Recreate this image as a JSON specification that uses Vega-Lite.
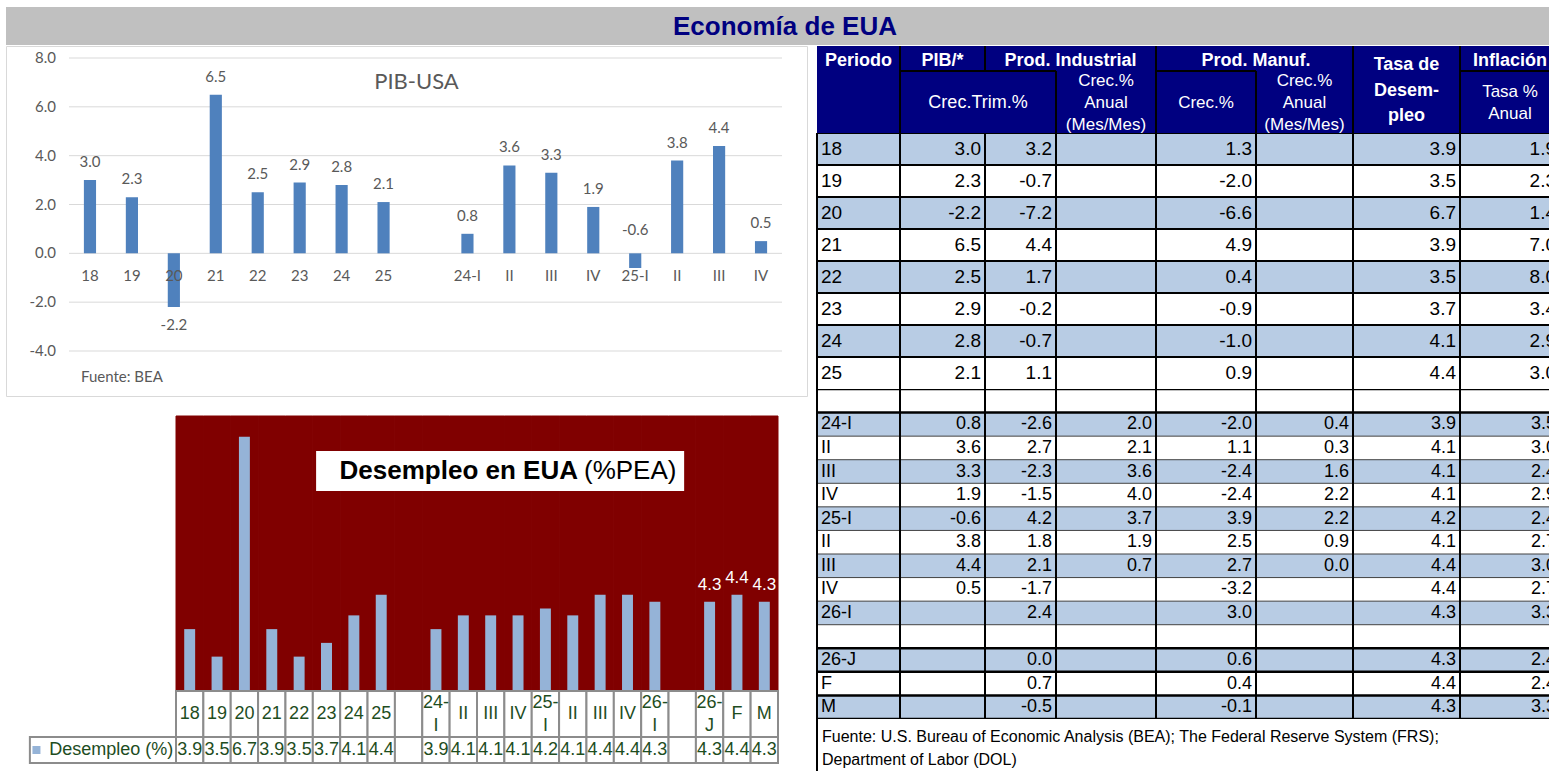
{
"$schema": "https://vega.github.io/schema/vega-lite/v6.json",
"background": "white",
"padding": {"left": 5, "top": 7, "right": 0, "bottom": 0},
"config": {"view": {"stroke": null}, "axis": {"disable": true}, "font": "Liberation Sans", "text": {"font": "Liberation Sans"},
  "locale": {"number": {"decimal": ".", "thousands": ",", "grouping": [3], "currency": ["$", ""], "minus": "-"}}},
"datasets": {
 "pib": [
  {"k":"18","l":"18","v":3.0},{"k":"19","l":"19","v":2.3},{"k":"20","l":"20","v":-2.2},{"k":"21","l":"21","v":6.5},
  {"k":"22","l":"22","v":2.5},{"k":"23","l":"23","v":2.9},{"k":"24","l":"24","v":2.8},{"k":"25","l":"25","v":2.1},
  {"k":"b1","l":"","v":null},
  {"k":"24-I","l":"24-I","v":0.8},{"k":"24-II","l":"II","v":3.6},{"k":"24-III","l":"III","v":3.3},{"k":"24-IV","l":"IV","v":1.9},
  {"k":"25-I","l":"25-I","v":-0.6},{"k":"25-II","l":"II","v":3.8},{"k":"25-III","l":"III","v":4.4},{"k":"25-IV","l":"IV","v":0.5}
 ],
 "grid": [{"g":-4},{"g":-2},{"g":0},{"g":2},{"g":4},{"g":6},{"g":8}],
 "des": [
  {"k":"18","lab":"18","v":3.9},{"k":"19","lab":"19","v":3.5},{"k":"20","lab":"20","v":6.7},{"k":"21","lab":"21","v":3.9},
  {"k":"22","lab":"22","v":3.5},{"k":"23","lab":"23","v":3.7},{"k":"24","lab":"24","v":4.1},{"k":"25","lab":"25","v":4.4},
  {"k":"b1","lab":"","v":null},
  {"k":"24-I","lab":"24-\nI","v":3.9},{"k":"24-II","lab":"II","v":4.1},{"k":"24-III","lab":"III","v":4.1},{"k":"24-IV","lab":"IV","v":4.1},
  {"k":"25-I","lab":"25-\nI","v":4.2},{"k":"25-II","lab":"II","v":4.1},{"k":"25-III","lab":"III","v":4.4},{"k":"25-IV","lab":"IV","v":4.4},
  {"k":"26-I","lab":"26-\nI","v":4.3},
  {"k":"b2","lab":"","v":null},
  {"k":"26-J","lab":"26-\nJ","v":4.3},{"k":"26-F","lab":"F","v":4.4},{"k":"26-M","lab":"M","v":4.3}
 ],
 "tabA": [
  {"k":"18","p":"18","pib":3.0,"pi":3.2,"pia":null,"pm":1.3,"pma":null,"des":3.9,"inf":1.9},
  {"k":"19","p":"19","pib":2.3,"pi":-0.7,"pia":null,"pm":-2.0,"pma":null,"des":3.5,"inf":2.3},
  {"k":"20","p":"20","pib":-2.2,"pi":-7.2,"pia":null,"pm":-6.6,"pma":null,"des":6.7,"inf":1.4},
  {"k":"21","p":"21","pib":6.5,"pi":4.4,"pia":null,"pm":4.9,"pma":null,"des":3.9,"inf":7.0},
  {"k":"22","p":"22","pib":2.5,"pi":1.7,"pia":null,"pm":0.4,"pma":null,"des":3.5,"inf":8.0},
  {"k":"23","p":"23","pib":2.9,"pi":-0.2,"pia":null,"pm":-0.9,"pma":null,"des":3.7,"inf":3.4},
  {"k":"24","p":"24","pib":2.8,"pi":-0.7,"pia":null,"pm":-1.0,"pma":null,"des":4.1,"inf":2.9},
  {"k":"25","p":"25","pib":2.1,"pi":1.1,"pia":null,"pm":0.9,"pma":null,"des":4.4,"inf":3.0}
 ],
 "tabQ": [
  {"k":"b1","p":"","pib":null,"pi":null,"pia":null,"pm":null,"pma":null,"des":null,"inf":null},
  {"k":"24-I","p":"24-I","pib":0.8,"pi":-2.6,"pia":2.0,"pm":-2.0,"pma":0.4,"des":3.9,"inf":3.5},
  {"k":"24-II","p":"II","pib":3.6,"pi":2.7,"pia":2.1,"pm":1.1,"pma":0.3,"des":4.1,"inf":3.0},
  {"k":"24-III","p":"III","pib":3.3,"pi":-2.3,"pia":3.6,"pm":-2.4,"pma":1.6,"des":4.1,"inf":2.4},
  {"k":"24-IV","p":"IV","pib":1.9,"pi":-1.5,"pia":4.0,"pm":-2.4,"pma":2.2,"des":4.1,"inf":2.9},
  {"k":"25-I","p":"25-I","pib":-0.6,"pi":4.2,"pia":3.7,"pm":3.9,"pma":2.2,"des":4.2,"inf":2.4},
  {"k":"25-II","p":"II","pib":3.8,"pi":1.8,"pia":1.9,"pm":2.5,"pma":0.9,"des":4.1,"inf":2.7},
  {"k":"25-III","p":"III","pib":4.4,"pi":2.1,"pia":0.7,"pm":2.7,"pma":0.0,"des":4.4,"inf":3.0},
  {"k":"25-IV","p":"IV","pib":0.5,"pi":-1.7,"pia":null,"pm":-3.2,"pma":null,"des":4.4,"inf":2.7},
  {"k":"26-I","p":"26-I","pib":null,"pi":2.4,"pia":null,"pm":3.0,"pma":null,"des":4.3,"inf":3.3},
  {"k":"b2","p":"","pib":null,"pi":null,"pia":null,"pm":null,"pma":null,"des":null,"inf":null},
  {"k":"26-J","p":"26-J","pib":null,"pi":0.0,"pia":null,"pm":0.6,"pma":null,"des":4.3,"inf":2.4},
  {"k":"26-F","p":"F","pib":null,"pi":0.7,"pia":null,"pm":0.4,"pma":null,"des":4.4,"inf":2.4},
  {"k":"26-M","p":"M","pib":null,"pi":-0.5,"pia":null,"pm":-0.1,"pma":null,"des":4.3,"inf":3.3}
 ]
},
"spacing": 0,
"bounds": "full",
"vconcat": [
 {
  "width": 1544, "height": 38,
  "view": {"fill": "#c0c0c0", "stroke": null},
  "data": {"values": [{"t": "Economía de EUA"}]},
  "mark": {"type": "text", "fontSize": 26, "fontWeight": "bold", "color": "#000080", "dx": 7, "dy": 1, "baseline": "middle", "align": "center"},
  "encoding": {"text": {"field": "t"}}
 },
 {
  "hconcat": [
   {
    "vconcat": [
     {
      "width": 801, "height": 350,
      "view": {"fill": "white", "stroke": "#d9d9d9"},
      "data": {"name": "pib"},
      "layer": [
       {"data": {"name": "grid"},
        "mark": {"type": "rule", "color": "#d9d9d9", "strokeWidth": 1},
        "encoding": {
         "x": {"datum": "18", "bandPosition": 0, "type": "nominal", "scale": {"domain": ["18","19","20","21","22","23","24","25","b1","24-I","24-II","24-III","24-IV","25-I","25-II","25-III","25-IV"], "range": [63, 776], "paddingInner": 0, "paddingOuter": 0}},
         "x2": {"datum": "25-IV", "bandPosition": 1},
         "y": {"field": "g", "type": "quantitative", "scale": {"domain": [-4, 8], "range": [305, 12], "zero": false, "nice": false}}}},
       {"data": {"name": "grid"},
        "mark": {"type": "text", "align": "right", "baseline": "middle", "dx": -13, "font": "Lato", "fontSize": 15, "color": "#595959"},
        "encoding": {"x": {"datum": "18", "bandPosition": 0, "type": "nominal"}, "y": {"field": "g", "type": "quantitative"}, "text": {"field": "g", "type": "quantitative", "format": ".1f"}}},
       {"transform": [{"filter": "isValid(datum.v)"}],
        "mark": {"type": "bar", "color": "#4f81bd", "width": {"band": 0.29}},
        "encoding": {"x": {"field": "k", "type": "nominal"}, "y": {"field": "v", "type": "quantitative"}, "y2": {"datum": 0}}},
       {"transform": [{"filter": "isValid(datum.v) && datum.v >= 0"}],
        "mark": {"type": "text", "baseline": "middle", "dy": -18, "font": "Lato", "fontSize": 15, "color": "#595959"},
        "encoding": {"x": {"field": "k", "type": "nominal"}, "y": {"field": "v", "type": "quantitative"}, "text": {"field": "v", "type": "quantitative", "format": ".1f"}}},
       {"transform": [{"filter": "isValid(datum.v) && datum.v < -1"}],
        "mark": {"type": "text", "baseline": "middle", "dy": 18, "font": "Lato", "fontSize": 15, "color": "#595959"},
        "encoding": {"x": {"field": "k", "type": "nominal"}, "y": {"field": "v", "type": "quantitative"}, "text": {"field": "v", "type": "quantitative", "format": ".1f"}}},
       {"transform": [{"filter": "isValid(datum.v) && datum.v < 0 && datum.v > -1"}],
        "mark": {"type": "text", "baseline": "middle", "dy": -23, "font": "Lato", "fontSize": 15, "color": "#595959"},
        "encoding": {"x": {"field": "k", "type": "nominal"}, "y": {"datum": 0, "type": "quantitative"}, "text": {"field": "v", "type": "quantitative", "format": ".1f"}}},
       {"mark": {"type": "text", "baseline": "middle", "dy": 23, "font": "Lato", "fontSize": 15, "color": "#595959"},
        "encoding": {"x": {"field": "k", "type": "nominal"}, "y": {"datum": 0, "type": "quantitative"}, "text": {"field": "l"}}},
       {"data": {"values": [{"t": "PIB-USA"}]},
        "mark": {"type": "text", "baseline": "middle", "dx": 10, "font": "Lato", "fontSize": 22, "color": "#595959"},
        "encoding": {"y": {"datum": 7, "type": "quantitative"}, "text": {"field": "t"}}},
       {"data": {"values": [{"t": "Fuente: BEA"}]},
        "mark": {"type": "text", "align": "left", "baseline": "middle", "dx": 12, "dy": 26, "font": "Lato", "fontSize": 15, "color": "#595959"},
        "encoding": {"x": {"datum": "18", "bandPosition": 0, "type": "nominal"}, "y": {"datum": -4, "type": "quantitative"}, "text": {"field": "t"}}}
      ]
     },
     {
      "width": 801, "height": 295,
      "data": {"name": "des"},
      "layer": [
       {"mark": {"type": "rect", "fill": "#800000", "stroke": "#800000", "strokeWidth": 1},
        "encoding": {
         "x": {"field": "k", "type": "nominal", "scale": {"domain": ["18","19","20","21","22","23","24","25","b1","24-I","24-II","24-III","24-IV","25-I","25-II","25-III","25-IV","26-I","b2","26-J","26-F","26-M"], "range": [170, 772], "paddingInner": 0, "paddingOuter": 0}},
         "y": {"datum": 7, "type": "quantitative", "scale": {"domain": [3, 7], "range": [295, 20], "zero": false, "nice": false}},
         "y2": {"datum": 3}}},
       {"transform": [{"filter": "isValid(datum.v)"}],
        "mark": {"type": "bar", "color": "#95b3d7", "width": {"band": 0.4}},
        "encoding": {"x": {"field": "k", "type": "nominal"}, "y": {"field": "v", "type": "quantitative"}, "y2": {"datum": 3}}},
       {"transform": [{"filter": "indexof(['26-J','26-F','26-M'], datum.k) >= 0"}],
        "mark": {"type": "text", "baseline": "middle", "dy": -17, "fontSize": 17, "color": "white"},
        "encoding": {"x": {"field": "k", "type": "nominal"}, "y": {"field": "v", "type": "quantitative"}, "text": {"field": "v", "type": "quantitative", "format": ".1f"}}},
       {"data": {"values": [{"t": ""}]},
        "mark": {"type": "rect", "fill": "white"},
        "encoding": {"x": {"datum": "23", "bandPosition": 0.12, "type": "nominal"}, "x2": {"datum": "b2", "bandPosition": 0.57}, "y": {"datum": 6.49, "type": "quantitative"}, "y2": {"datum": 5.91}}},
       {"data": {"values": [{"t": "Desempleo en EUA"}]},
        "mark": {"type": "text", "align": "right", "baseline": "middle", "fontSize": 26, "fontWeight": "bold", "color": "black"},
        "encoding": {"x": {"datum": "25-II", "bandPosition": 0.69, "type": "nominal"}, "y": {"datum": 6.2, "type": "quantitative"}, "text": {"field": "t"}}},
       {"data": {"values": [{"t": "(%PEA)"}]},
        "mark": {"type": "text", "align": "left", "baseline": "middle", "fontSize": 26, "color": "black"},
        "encoding": {"x": {"datum": "25-II", "bandPosition": 0.91, "type": "nominal"}, "y": {"datum": 6.2, "type": "quantitative"}, "text": {"field": "t"}}}
      ]
     },
     {
      "width": 801, "height": 46,
      "data": {"name": "des"},
      "layer": [
       {"mark": {"type": "rect", "fill": "white", "stroke": "#8c8c8c", "strokeWidth": 2},
        "encoding": {"x": {"field": "k", "type": "nominal", "scale": {"domain": ["18","19","20","21","22","23","24","25","b1","24-I","24-II","24-III","24-IV","25-I","25-II","25-III","25-IV","26-I","b2","26-J","26-F","26-M"], "range": [170, 772], "paddingInner": 0, "paddingOuter": 0}}}},
       {"transform": [{"filter": "indexof(datum.lab, '\\n') < 0"}],
        "mark": {"type": "text", "fontSize": 18, "color": "#1e4d1e", "baseline": "middle"},
        "encoding": {"x": {"field": "k", "type": "nominal"}, "text": {"field": "lab"}}},
       {"transform": [{"filter": "indexof(datum.lab, '\\n') >= 0"}],
        "mark": {"type": "text", "lineBreak": "\n", "lineHeight": 23, "fontSize": 18, "color": "#1e4d1e", "baseline": "middle", "dy": -11},
        "encoding": {"x": {"field": "k", "type": "nominal"}, "text": {"field": "lab"}}}
      ]
     },
     {
      "width": 801, "height": 26,
      "data": {"name": "des"},
      "layer": [
       {"data": {"values": [{"t": ""}]},
        "mark": {"type": "rect", "fill": "white", "stroke": "#8c8c8c", "strokeWidth": 2},
        "encoding": {"x": {"datum": "18", "bandPosition": -5.34, "type": "nominal", "scale": {"domain": ["18","19","20","21","22","23","24","25","b1","24-I","24-II","24-III","24-IV","25-I","25-II","25-III","25-IV","26-I","b2","26-J","26-F","26-M"], "range": [170, 772], "paddingInner": 0, "paddingOuter": 0}}, "x2": {"datum": "18", "bandPosition": 0}}},
       {"mark": {"type": "rect", "fill": "white", "stroke": "#8c8c8c", "strokeWidth": 2},
        "encoding": {"x": {"field": "k", "type": "nominal"}}},
       {"transform": [{"filter": "isValid(datum.v)"}],
        "mark": {"type": "text", "fontSize": 18, "color": "#1e4d1e", "baseline": "middle"},
        "encoding": {"x": {"field": "k", "type": "nominal"}, "text": {"field": "v", "type": "quantitative", "format": ".1f"}}},
       {"data": {"values": [{"t": ""}]},
        "mark": {"type": "square", "size": 64, "filled": true, "color": "#95b3d7", "opacity": 1},
        "encoding": {"x": {"datum": "18", "bandPosition": -5.1, "type": "nominal"}}},
       {"data": {"values": [{"t": "Desempleo (%)"}]},
        "mark": {"type": "text", "align": "right", "baseline": "middle", "fontSize": 18, "color": "#1e4d1e"},
        "encoding": {"x": {"datum": "18", "bandPosition": -0.1, "type": "nominal"}, "text": {"field": "t"}}}
      ]
     }
    ],
    "spacing": 0,
    "bounds": "flush"
   },
   {
    "vconcat": [
     {
      "width": 732, "height": 87,
      "data": {"values": [{"t": ""}]},
      "layer": [
       {"mark": {"type": "rect", "fill": "#000080", "clip": true},
        "encoding": {"x": {"datum": 0, "type": "quantitative", "scale": {"type": "linear", "domain": [0,1,2,3,4,5,6,7,8], "range": [0,83,168,239,339,439,536,643,743], "zero": false, "nice": false}}, "x2": {"datum": 8},
         "y": {"datum": 0, "type": "quantitative", "scale": {"type": "linear", "domain": [0,1,2], "range": [0,25,87], "zero": false, "nice": false}}, "y2": {"datum": 2}}},
       {"mark": {"type": "rule", "color": "black", "strokeWidth": 2}, "encoding": {"x": {"datum": 1, "type": "quantitative"}, "y": {"datum": 0, "type": "quantitative"}, "y2": {"datum": 2}}},
       {"mark": {"type": "rule", "color": "black", "strokeWidth": 2}, "encoding": {"x": {"datum": 2, "type": "quantitative"}, "y": {"datum": 0, "type": "quantitative"}, "y2": {"datum": 1}}},
       {"mark": {"type": "rule", "color": "black", "strokeWidth": 2}, "encoding": {"x": {"datum": 3, "type": "quantitative"}, "y": {"datum": 1, "type": "quantitative"}, "y2": {"datum": 2}}},
       {"mark": {"type": "rule", "color": "black", "strokeWidth": 2}, "encoding": {"x": {"datum": 4, "type": "quantitative"}, "y": {"datum": 0, "type": "quantitative"}, "y2": {"datum": 2}}},
       {"mark": {"type": "rule", "color": "black", "strokeWidth": 2}, "encoding": {"x": {"datum": 5, "type": "quantitative"}, "y": {"datum": 1, "type": "quantitative"}, "y2": {"datum": 2}}},
       {"mark": {"type": "rule", "color": "black", "strokeWidth": 2}, "encoding": {"x": {"datum": 6, "type": "quantitative"}, "y": {"datum": 0, "type": "quantitative"}, "y2": {"datum": 2}}},
       {"mark": {"type": "rule", "color": "black", "strokeWidth": 2}, "encoding": {"x": {"datum": 7, "type": "quantitative"}, "y": {"datum": 0, "type": "quantitative"}, "y2": {"datum": 2}}},
       {"mark": {"type": "rule", "color": "black", "strokeWidth": 2}, "encoding": {"x": {"datum": 1, "type": "quantitative"}, "x2": {"datum": 3}, "y": {"datum": 1, "type": "quantitative"}}},
       {"mark": {"type": "rule", "color": "black", "strokeWidth": 2}, "encoding": {"x": {"datum": 4, "type": "quantitative"}, "x2": {"datum": 5}, "y": {"datum": 1, "type": "quantitative"}}},
       {"mark": {"type": "rule", "color": "black", "strokeWidth": 2, "clip": true}, "encoding": {"x": {"datum": 7, "type": "quantitative"}, "x2": {"datum": 8}, "y": {"datum": 1, "type": "quantitative"}}},
       {"mark": {"type": "text", "color": "white", "fontWeight": "bold", "fontSize": 18, "baseline": "middle"}, "encoding": {"x": {"datum": 0.5, "type": "quantitative"}, "y": {"datum": 0.6, "type": "quantitative"}, "text": {"value": "Periodo"}}},
       {"mark": {"type": "text", "color": "white", "fontWeight": "bold", "fontSize": 18, "baseline": "middle"}, "encoding": {"x": {"datum": 1.5, "type": "quantitative"}, "y": {"datum": 0.6, "type": "quantitative"}, "text": {"value": "PIB/*"}}},
       {"mark": {"type": "text", "color": "white", "fontWeight": "bold", "fontSize": 18, "baseline": "middle"}, "encoding": {"x": {"datum": 3.145, "type": "quantitative"}, "y": {"datum": 0.6, "type": "quantitative"}, "text": {"value": "Prod. Industrial"}}},
       {"mark": {"type": "text", "color": "white", "fontWeight": "bold", "fontSize": 18, "baseline": "middle"}, "encoding": {"x": {"datum": 5, "type": "quantitative"}, "y": {"datum": 0.6, "type": "quantitative"}, "text": {"value": "Prod. Manuf."}}},
       {"mark": {"type": "text", "color": "white", "fontWeight": "bold", "fontSize": 18, "baseline": "middle", "clip": true}, "encoding": {"x": {"datum": 7.5, "type": "quantitative"}, "y": {"datum": 0.6, "type": "quantitative"}, "text": {"value": "Inflación"}}},
       {"mark": {"type": "text", "color": "white", "fontWeight": "bold", "fontSize": 18, "baseline": "middle", "lineHeight": 25.5}, "encoding": {"x": {"datum": 6.5, "type": "quantitative"}, "y": {"datum": 0.76, "type": "quantitative"}, "text": {"value": ["Tasa de", "Desem-", "pleo"]}}},
       {"mark": {"type": "text", "color": "white", "fontSize": 18, "baseline": "middle"}, "encoding": {"x": {"datum": 1.918, "type": "quantitative"}, "y": {"datum": 1.516, "type": "quantitative"}, "text": {"value": "Crec.Trim.%"}}},
       {"mark": {"type": "text", "color": "white", "fontSize": 17, "baseline": "middle", "lineHeight": 22}, "encoding": {"x": {"datum": 3.5, "type": "quantitative"}, "y": {"datum": 1.16, "type": "quantitative"}, "text": {"value": ["Crec.%", "Anual", "(Mes/Mes)"]}}},
       {"mark": {"type": "text", "color": "white", "fontSize": 17, "baseline": "middle"}, "encoding": {"x": {"datum": 4.5, "type": "quantitative"}, "y": {"datum": 1.516, "type": "quantitative"}, "text": {"value": "Crec.%"}}},
       {"mark": {"type": "text", "color": "white", "fontSize": 17, "baseline": "middle", "lineHeight": 22}, "encoding": {"x": {"datum": 5.5, "type": "quantitative"}, "y": {"datum": 1.16, "type": "quantitative"}, "text": {"value": ["Crec.%", "Anual", "(Mes/Mes)"]}}},
       {"mark": {"type": "text", "color": "white", "fontSize": 17, "baseline": "middle", "lineHeight": 22, "clip": true}, "encoding": {"x": {"datum": 7.5, "type": "quantitative"}, "y": {"datum": 1.339, "type": "quantitative"}, "text": {"value": ["Tasa %", "Anual"]}}}
      ]
     },
     {
      "width": 732, "height": 256,
      "data": {"name": "tabA"},
      "layer": [
       {"mark": {"type": "rect", "clip": true},
        "encoding": {"x": {"datum": 0, "type": "quantitative", "scale": {"type": "linear", "domain": [0,1,2,3,4,5,6,7,8], "range": [0,83,168,239,339,439,536,643,743], "zero": false, "nice": false}}, "x2": {"datum": 8},
         "y": {"field": "k", "type": "nominal", "scale": {"domain": ["18","19","20","21","22","23","24","25"], "paddingInner": 0, "paddingOuter": 0}},
         "fill": {"condition": {"test": "indexof(['18','20','22','24'], datum.k) >= 0", "value": "#b8cce4"}, "value": "white"}}},
       {"mark": {"type": "rule", "color": "black", "strokeWidth": 2, "clip": true},
        "encoding": {"x": {"datum": 0, "type": "quantitative"}, "x2": {"datum": 8}, "y": {"field": "k", "type": "nominal", "bandPosition": 0}}},
       {"mark": {"type": "rule", "color": "black", "strokeWidth": 2}, "encoding": {"x": {"datum": 0, "type": "quantitative"}}},
       {"mark": {"type": "rule", "color": "black", "strokeWidth": 2}, "encoding": {"x": {"datum": 1, "type": "quantitative"}}},
       {"mark": {"type": "rule", "color": "black", "strokeWidth": 2}, "encoding": {"x": {"datum": 2, "type": "quantitative"}}},
       {"mark": {"type": "rule", "color": "black", "strokeWidth": 2}, "encoding": {"x": {"datum": 3, "type": "quantitative"}}},
       {"mark": {"type": "rule", "color": "black", "strokeWidth": 2}, "encoding": {"x": {"datum": 4, "type": "quantitative"}}},
       {"mark": {"type": "rule", "color": "black", "strokeWidth": 2}, "encoding": {"x": {"datum": 5, "type": "quantitative"}}},
       {"mark": {"type": "rule", "color": "black", "strokeWidth": 2}, "encoding": {"x": {"datum": 6, "type": "quantitative"}}},
       {"mark": {"type": "rule", "color": "black", "strokeWidth": 2}, "encoding": {"x": {"datum": 7, "type": "quantitative"}}},
       {"mark": {"type": "text", "align": "left", "dx": 4, "fontSize": 19, "baseline": "middle"},
        "encoding": {"x": {"datum": 0, "type": "quantitative"}, "y": {"field": "k", "type": "nominal"}, "text": {"field": "p"}}},
       {"transform": [{"filter": "isValid(datum.pib)"}], "mark": {"type": "text", "align": "right", "dx": -4, "fontSize": 19, "baseline": "middle"},
        "encoding": {"x": {"datum": 2, "type": "quantitative"}, "y": {"field": "k", "type": "nominal"}, "text": {"field": "pib", "type": "quantitative", "format": ".1f"}}},
       {"transform": [{"filter": "isValid(datum.pi)"}], "mark": {"type": "text", "align": "right", "dx": -4, "fontSize": 19, "baseline": "middle"},
        "encoding": {"x": {"datum": 3, "type": "quantitative"}, "y": {"field": "k", "type": "nominal"}, "text": {"field": "pi", "type": "quantitative", "format": ".1f"}}},
       {"transform": [{"filter": "isValid(datum.pm)"}], "mark": {"type": "text", "align": "right", "dx": -4, "fontSize": 19, "baseline": "middle"},
        "encoding": {"x": {"datum": 5, "type": "quantitative"}, "y": {"field": "k", "type": "nominal"}, "text": {"field": "pm", "type": "quantitative", "format": ".1f"}}},
       {"transform": [{"filter": "isValid(datum.des)"}], "mark": {"type": "text", "align": "right", "dx": -4, "fontSize": 19, "baseline": "middle"},
        "encoding": {"x": {"datum": 7, "type": "quantitative"}, "y": {"field": "k", "type": "nominal"}, "text": {"field": "des", "type": "quantitative", "format": ".1f"}}},
       {"transform": [{"filter": "isValid(datum.inf)"}], "mark": {"type": "text", "align": "right", "dx": -4, "fontSize": 19, "baseline": "middle", "clip": true},
        "encoding": {"x": {"datum": 8, "type": "quantitative"}, "y": {"field": "k", "type": "nominal"}, "text": {"field": "inf", "type": "quantitative", "format": ".1f"}}}
      ]
     },
     {
      "width": 732, "height": 330,
      "data": {"name": "tabQ"},
      "layer": [
       {"mark": {"type": "rect", "clip": true},
        "encoding": {"x": {"datum": 0, "type": "quantitative", "scale": {"type": "linear", "domain": [0,1,2,3,4,5,6,7,8], "range": [0,83,168,239,339,439,536,643,743], "zero": false, "nice": false}}, "x2": {"datum": 8},
         "y": {"field": "k", "type": "nominal", "scale": {"domain": ["b1","24-I","24-II","24-III","24-IV","25-I","25-II","25-III","25-IV","26-I","b2","26-J","26-F","26-M"], "paddingInner": 0, "paddingOuter": 0}},
         "fill": {"condition": {"test": "indexof(['24-I','24-III','25-I','25-III','26-I','26-J','26-M'], datum.k) >= 0", "value": "#b8cce4"}, "value": "white"}}},
       {"transform": [{"filter": "indexof(['b1','24-I','26-J','26-F','26-M'], datum.k) < 0"}],
        "mark": {"type": "rule", "color": "#404040", "strokeWidth": 1, "clip": true},
        "encoding": {"x": {"datum": 0, "type": "quantitative"}, "x2": {"datum": 8}, "y": {"field": "k", "type": "nominal", "bandPosition": 0}}},
       {"transform": [{"filter": "indexof(['b1','24-I','26-J','26-F','26-M'], datum.k) >= 0"}],
        "mark": {"type": "rule", "color": "black", "strokeWidth": 2.5, "clip": true},
        "encoding": {"x": {"datum": 0, "type": "quantitative"}, "x2": {"datum": 8}, "y": {"field": "k", "type": "nominal", "bandPosition": 0}}},
       {"transform": [{"filter": "datum.k == '26-M'"}],
        "mark": {"type": "rule", "color": "black", "strokeWidth": 2.5, "clip": true},
        "encoding": {"x": {"datum": 0, "type": "quantitative"}, "x2": {"datum": 8}, "y": {"field": "k", "type": "nominal", "bandPosition": 1}}},
       {"mark": {"type": "rule", "color": "black", "strokeWidth": 2}, "encoding": {"x": {"datum": 0, "type": "quantitative"}}},
       {"mark": {"type": "rule", "color": "black", "strokeWidth": 2}, "encoding": {"x": {"datum": 1, "type": "quantitative"}}},
       {"mark": {"type": "rule", "color": "black", "strokeWidth": 2}, "encoding": {"x": {"datum": 2, "type": "quantitative"}}},
       {"mark": {"type": "rule", "color": "black", "strokeWidth": 2}, "encoding": {"x": {"datum": 3, "type": "quantitative"}}},
       {"mark": {"type": "rule", "color": "black", "strokeWidth": 2}, "encoding": {"x": {"datum": 4, "type": "quantitative"}}},
       {"mark": {"type": "rule", "color": "black", "strokeWidth": 2}, "encoding": {"x": {"datum": 5, "type": "quantitative"}}},
       {"mark": {"type": "rule", "color": "black", "strokeWidth": 2}, "encoding": {"x": {"datum": 6, "type": "quantitative"}}},
       {"mark": {"type": "rule", "color": "black", "strokeWidth": 2}, "encoding": {"x": {"datum": 7, "type": "quantitative"}}},
       {"mark": {"type": "text", "align": "left", "dx": 4, "fontSize": 18, "baseline": "middle"},
        "encoding": {"x": {"datum": 0, "type": "quantitative"}, "y": {"field": "k", "type": "nominal"}, "text": {"field": "p"}}},
       {"transform": [{"filter": "isValid(datum.pib)"}], "mark": {"type": "text", "align": "right", "dx": -4, "fontSize": 18, "baseline": "middle"},
        "encoding": {"x": {"datum": 2, "type": "quantitative"}, "y": {"field": "k", "type": "nominal"}, "text": {"field": "pib", "type": "quantitative", "format": ".1f"}}},
       {"transform": [{"filter": "isValid(datum.pi)"}], "mark": {"type": "text", "align": "right", "dx": -4, "fontSize": 18, "baseline": "middle"},
        "encoding": {"x": {"datum": 3, "type": "quantitative"}, "y": {"field": "k", "type": "nominal"}, "text": {"field": "pi", "type": "quantitative", "format": ".1f"}}},
       {"transform": [{"filter": "isValid(datum.pia)"}], "mark": {"type": "text", "align": "right", "dx": -4, "fontSize": 18, "baseline": "middle"},
        "encoding": {"x": {"datum": 4, "type": "quantitative"}, "y": {"field": "k", "type": "nominal"}, "text": {"field": "pia", "type": "quantitative", "format": ".1f"}}},
       {"transform": [{"filter": "isValid(datum.pm)"}], "mark": {"type": "text", "align": "right", "dx": -4, "fontSize": 18, "baseline": "middle"},
        "encoding": {"x": {"datum": 5, "type": "quantitative"}, "y": {"field": "k", "type": "nominal"}, "text": {"field": "pm", "type": "quantitative", "format": ".1f"}}},
       {"transform": [{"filter": "isValid(datum.pma)"}], "mark": {"type": "text", "align": "right", "dx": -4, "fontSize": 18, "baseline": "middle"},
        "encoding": {"x": {"datum": 6, "type": "quantitative"}, "y": {"field": "k", "type": "nominal"}, "text": {"field": "pma", "type": "quantitative", "format": ".1f"}}},
       {"transform": [{"filter": "isValid(datum.des)"}], "mark": {"type": "text", "align": "right", "dx": -4, "fontSize": 18, "baseline": "middle"},
        "encoding": {"x": {"datum": 7, "type": "quantitative"}, "y": {"field": "k", "type": "nominal"}, "text": {"field": "des", "type": "quantitative", "format": ".1f"}}},
       {"transform": [{"filter": "isValid(datum.inf)"}], "mark": {"type": "text", "align": "right", "dx": -4, "fontSize": 18, "baseline": "middle", "clip": true},
        "encoding": {"x": {"datum": 8, "type": "quantitative"}, "y": {"field": "k", "type": "nominal"}, "text": {"field": "inf", "type": "quantitative", "format": ".1f"}}}
      ]
     },
     {
      "width": 732, "height": 52,
      "data": {"values": [{"t": ""}]},
      "layer": [
       {"mark": {"type": "rule", "color": "black", "strokeWidth": 2},
        "encoding": {"x": {"datum": 0, "type": "quantitative", "scale": {"type": "linear", "domain": [0,1,2,3,4,5,6,7,8], "range": [0,83,168,239,339,439,536,643,743], "zero": false, "nice": false}}}},
       {"mark": {"type": "text", "align": "left", "baseline": "middle", "dx": 5, "dy": -8, "fontSize": 16, "lineHeight": 23, "color": "black"},
        "encoding": {"x": {"datum": 0, "type": "quantitative"}, "text": {"value": ["Fuente: U.S. Bureau of Economic Analysis (BEA);  The Federal Reserve System (FRS);", "Department of Labor (DOL)"]}}}
      ]
     }
    ],
    "spacing": 0,
    "bounds": "flush"
   }
  ],
  "spacing": 8,
  "bounds": "full"
 }
]
}
